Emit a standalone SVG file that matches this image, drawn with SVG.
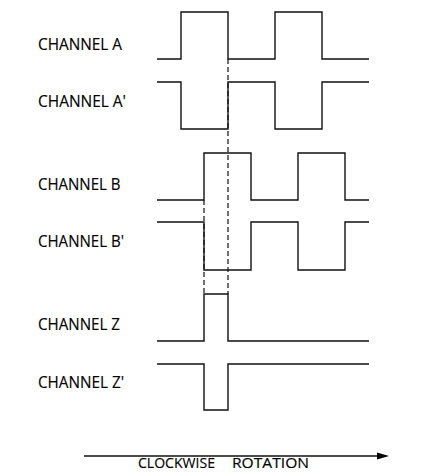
<svg xmlns="http://www.w3.org/2000/svg" width="421" height="473" viewBox="0 0 421 473">
<style>
.sig{fill:none;stroke:#111;stroke-width:1.4}
.dash{fill:none;stroke:#111;stroke-width:1.2;stroke-dasharray:5 3}
.lbl{font-family:"Open Sans","Noto Sans",sans-serif;font-size:16px;fill:#000;stroke:#000;stroke-width:0.15}
.rot{font-size:14.5px}
</style>
<rect width="421" height="473" fill="#fff"/>
<g id="channel-a"><text class="lbl" x="38" y="50" textLength="84" lengthAdjust="spacingAndGlyphs">CHANNEL A</text><path class="sig" d="M157,59 H181 V12 H228 V59 H275 V12 H322 V59 H369"/></g>
<g id="channel-a-prime"><text class="lbl" x="38" y="107" textLength="88" lengthAdjust="spacingAndGlyphs">CHANNEL A'</text><path class="sig" d="M157,82 H181 V129 H228 V82 H275 V129 H322 V82 H369"/></g>
<g id="channel-b"><text class="lbl" x="38" y="190" textLength="82.5" lengthAdjust="spacingAndGlyphs">CHANNEL B</text><path class="sig" d="M157,200 H204 V153 H251 V200 H298 V153 H345 V200 H369"/></g>
<g id="channel-b-prime"><text class="lbl" x="38" y="247" textLength="86" lengthAdjust="spacingAndGlyphs">CHANNEL B'</text><path class="sig" d="M157,222 H204 V270 H251 V222 H298 V270 H345 V222 H369"/></g>
<g id="channel-z"><text class="lbl" x="38" y="330" textLength="82" lengthAdjust="spacingAndGlyphs">CHANNEL Z</text><path class="sig" d="M157,341 H204 V294 H228 V341 H369"/></g>
<g id="channel-z-prime"><text class="lbl" x="38" y="388" textLength="86" lengthAdjust="spacingAndGlyphs">CHANNEL Z'</text><path class="sig" d="M157,364 H204 V410 H228 V364 H369"/></g>
<g id="connectors">
<path class="dash" d="M228,59 V294"/>
<path class="dash" d="M204,200 V294"/>
<path class="sig" d="M84,456 H380"/>
<polygon points="377,452.5 389,456 377,459.5" fill="#000"/>
</g>
<g id="rotation-label"><text class="lbl rot" y="468"><tspan x="138" textLength="77" lengthAdjust="spacingAndGlyphs">CLOCKWISE</tspan><tspan x="232" textLength="77" lengthAdjust="spacingAndGlyphs">ROTATION</tspan></text></g>
</svg>
